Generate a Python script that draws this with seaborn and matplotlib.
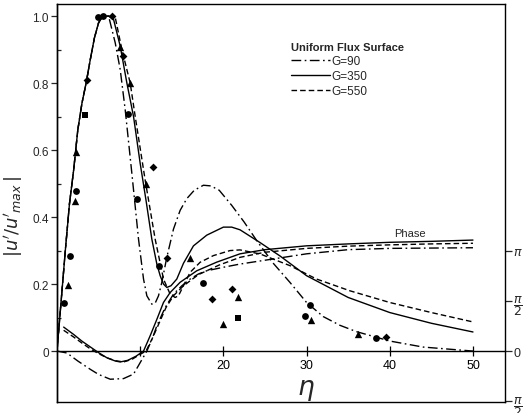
import numpy as np
import pandas as pd
import matplotlib
matplotlib.use("Agg")
import matplotlib.pyplot as plt
import seaborn as sns

# ---------------- data ----------------
# amplitude curves |u'/u'max| versus eta
amp_x_g90 = [0, 0.5, 1, 1.5, 2, 2.5, 3, 3.5, 4, 4.5, 5, 5.5, 6.2, 7, 7.6, 8.2, 9, 9.8, 10.4, 10.8,
             11.4, 11.8, 12.2, 12.6, 13.2, 14, 14.8, 15.6, 16.5, 17.6, 18.5, 19.5, 21, 22.5, 24, 26,
             28, 30, 32, 34, 36, 40, 44, 50]
amp_y_g90 = [0, 0.15, 0.3, 0.44, 0.54, 0.66, 0.74, 0.8, 0.87, 0.935, 0.98, 1.0, 1.0, 0.92, 0.84, 0.72,
             0.53, 0.334, 0.215, 0.165, 0.14, 0.143, 0.165, 0.205, 0.28, 0.364, 0.42, 0.455, 0.48, 0.495,
             0.493, 0.48, 0.435, 0.385, 0.33, 0.262, 0.205, 0.145, 0.103, 0.077, 0.058, 0.03, 0.012, 0.0]

amp_x_g350 = [0, 0.5, 1, 1.5, 2, 2.5, 3, 3.5, 4, 4.5, 5, 5.5, 6.2, 6.8, 7.6, 8.4, 9.2, 10, 10.7, 11.4,
              12, 12.4, 12.8, 13.2, 13.7, 14.4, 15.2, 16.4, 18, 20, 21, 22, 24.4, 26.8, 30, 35, 40, 45, 50]
amp_y_g350 = [0, 0.15, 0.3, 0.44, 0.54, 0.66, 0.74, 0.8, 0.87, 0.935, 0.98, 1.0, 1.0, 0.99, 0.91, 0.80,
              0.70, 0.56, 0.45, 0.334, 0.26, 0.225, 0.2, 0.19, 0.195, 0.215, 0.262, 0.314, 0.346, 0.37,
              0.37, 0.362, 0.324, 0.284, 0.225, 0.16, 0.115, 0.083, 0.057]

amp_x_g550 = [0, 0.5, 1, 1.5, 2, 2.5, 3, 3.5, 4, 4.5, 5, 5.5, 6.2, 7, 7.8, 8.8, 9.4, 10.6, 11.8, 12.8,
              13.6, 14.2, 14.6, 15, 16, 17.2, 18.8, 20.8, 22, 24.4, 28, 31.2, 35.2, 40, 45, 50]
amp_y_g550 = [0, 0.15, 0.3, 0.44, 0.54, 0.66, 0.74, 0.8, 0.87, 0.935, 0.98, 1.0, 1.0, 0.996, 0.90, 0.80,
              0.70, 0.51, 0.334, 0.215, 0.17, 0.16, 0.165, 0.185, 0.235, 0.265, 0.285, 0.30, 0.302, 0.29,
              0.255, 0.215, 0.18, 0.145, 0.115, 0.087]

# phase curves (radians, right axis)
ph_x_g90 = [0, 1.2, 2.5, 4, 5, 6.4, 8, 9.2, 10, 10.8, 11.5, 12, 13, 14, 15, 16, 17, 18, 20, 22, 26,
            30, 35, 40, 50]
ph_y_g90 = [0, -0.06, -0.31, -0.57, -0.73, -0.88, -0.86, -0.72, -0.36, 0, 0.42, 0.79, 1.36, 1.78,
            2.04, 2.25, 2.41, 2.51, 2.62, 2.72, 2.88, 3.04, 3.17, 3.21, 3.23]

ph_x_g350 = [0.8, 2, 3, 4, 5, 6, 7, 7.6, 8.5, 9.5, 10.4, 11.2, 12, 12.8, 13.6, 14.8, 16.8, 19.2, 22,
             25, 30, 35, 40, 45, 50]
ph_y_g350 = [0.75, 0.52, 0.31, 0.13, -0.05, -0.21, -0.31, -0.34, -0.29, -0.16, 0.0, 0.48, 0.99, 1.52,
             1.83, 2.15, 2.51, 2.78, 3.04, 3.17, 3.29, 3.35, 3.40, 3.43, 3.47]

ph_x_g550 = [0.8, 2, 3, 4, 5, 6, 7, 8, 9, 10, 10.7, 11.5, 12.3, 13.1, 14, 15.2, 17, 19.5, 22, 25,
             30, 35, 40, 45, 50]
ph_y_g550 = [0.65, 0.44, 0.25, 0.07, -0.08, -0.21, -0.30, -0.34, -0.26, -0.10, 0.0, 0.42, 0.89,
             1.36, 1.73, 2.04, 2.39, 2.69, 2.93, 3.09, 3.21, 3.28, 3.32, 3.35, 3.37]

# experimental points
circ_x = [0.88, 1.56, 2.28, 4.97, 5.57, 8.57, 9.6, 12.3, 17.5, 30.4, 29.8, 38.3]
circ_y = [0.143, 0.284, 0.478, 0.996, 1.0, 0.707, 0.454, 0.255, 0.203, 0.137, 0.104, 0.04]
tri_x = [1.28, 2.16, 2.28, 7.57, 8.77, 10.7, 16.0, 21.8, 19.9, 30.5, 36.2]
tri_y = [0.197, 0.448, 0.594, 0.907, 0.80, 0.50, 0.277, 0.161, 0.08, 0.093, 0.05]
dia_x = [3.6, 6.57, 7.97, 11.5, 13.2, 18.6, 21.0, 39.5]
dia_y = [0.81, 1.0, 0.88, 0.55, 0.277, 0.155, 0.185, 0.043]
sq_x = [3.37, 21.7]
sq_y = [0.705, 0.10]

x_ticks = [10, 20, 30, 40, 50]
x_ticklabels = ["", "20", "30", "40", "50"]
y_ticks = [0, 0.2, 0.4, 0.6, 0.8, 1.0]
y_ticklabels = ["0", "0.2", "0.4", "0.6", "0.8", "1.0"]
ph_ticks = [-np.pi / 2, 0, np.pi / 2, np.pi]
ph_ticklabels = [r"$\dfrac{\pi}{2}$", "0", r"$\dfrac{\pi}{2}$", r"$\pi$"]

series_labels = ["G=90", "G=350", "G=550"]

# ---------------- styling ----------------
sns.set_style("ticks")
plt.rcParams["font.family"] = ["Liberation Sans Narrow", "Liberation Sans", "DejaVu Sans"]
plt.rcParams["mathtext.fontset"] = "dejavusans"

W, H = 527, 414
fig = plt.figure(figsize=(W / 100, H / 100), dpi=100)
ax = fig.add_axes([57 / W, 11 / H, 448 / W, 398 / H])
ax.set_xlim(0, 53.85)
ax.set_ylim(-0.152, 1.036)
ax2 = ax.twinx()
scale = np.pi / 0.3
ax2.set_ylim(-0.152 * scale, 1.036 * scale)

dashdot = (0, (7, 2.5, 1.2, 2.5))
dashed = (0, (4, 2.2))
styles = [dashdot, "-", dashed]

amps = [(amp_x_g90, amp_y_g90), (amp_x_g350, amp_y_g350), (amp_x_g550, amp_y_g550)]
phases = [(ph_x_g90, ph_y_g90), (ph_x_g350, ph_y_g350), (ph_x_g550, ph_y_g550)]

for (xs, ys), ls, lab in zip(amps, styles, series_labels):
    sns.lineplot(x=xs, y=ys, ax=ax, color="black", linestyle=ls, linewidth=1.0,
                 sort=False, estimator=None, label=lab)
for (xs, ys), ls in zip(phases, styles):
    sns.lineplot(x=xs, y=ys, ax=ax2, color="black", linestyle=ls, linewidth=1.0,
                 sort=False, estimator=None)

sns.scatterplot(x=circ_x, y=circ_y, ax=ax, marker="o", color="black", s=24, linewidth=0, zorder=5)
sns.scatterplot(x=tri_x, y=tri_y, ax=ax, marker="^", color="black", s=28, linewidth=0, zorder=5)
sns.scatterplot(x=dia_x, y=dia_y, ax=ax, marker="D", color="black", s=16, linewidth=0, zorder=5)
sns.scatterplot(x=sq_x, y=sq_y, ax=ax, marker="s", color="black", s=22, linewidth=0, zorder=5)

# axes / spines
for s in ["top", "right"]:
    ax.spines[s].set_visible(False)
ax.spines["bottom"].set_position(("data", 0))
for s in ["top", "right", "bottom", "left"]:
    ax2.spines[s].set_visible(True)
    ax2.spines[s].set_linewidth(1.0)
    ax2.spines[s].set_color("black")
ax.spines["left"].set_linewidth(1.0)
ax.spines["bottom"].set_linewidth(1.0)
ax.spines["left"].set_color("black")
ax.spines["bottom"].set_color("black")

ax.set_xticks(x_ticks)
ax.set_xticklabels(x_ticklabels)
ax.set_yticks(y_ticks)
ax.set_yticklabels(y_ticklabels)
ax.set_yticks(np.arange(0.1, 1.0, 0.2), minor=True)
ax.tick_params(axis="x", direction="inout", length=7, width=0.9, labelsize=9, pad=2, colors="black")
ax.tick_params(axis="y", which="major", direction="out", length=4, width=0.9, labelsize=8.5, pad=2)
ax.tick_params(axis="y", which="minor", direction="in", length=3, width=0.9)

ax2.set_yticks(ph_ticks)
ax2.set_yticklabels(ph_ticklabels)
ax2.tick_params(axis="y", direction="out", length=5, width=0.9, labelsize=9, pad=1)

ax.set_ylabel(r"$|u'/u'_{max}\,|$", fontsize=13)
ax.yaxis.set_label_coords(-0.072, 0.47)
ax.set_xlabel(r"$\eta$", fontsize=19)
ax.xaxis.set_label_coords(0.556, 0.062)
ax2.set_ylabel("")

ax.text(42.4, 0.352, "Phase", fontsize=8, ha="center", va="center")

handles, labels = ax.get_legend_handles_labels()
leg = ax.legend(handles[:3], labels[:3], title="Uniform Flux Surface", loc="upper left",
                bbox_to_anchor=(0.522, 0.905), frameon=False, fontsize=8.5,
                title_fontproperties={"weight": "bold", "size": 8},
                handlelength=3.3, handletextpad=0.15, labelspacing=0.25,
                borderpad=0, borderaxespad=0, alignment="left")

fig.savefig("out.png", dpi=100)
